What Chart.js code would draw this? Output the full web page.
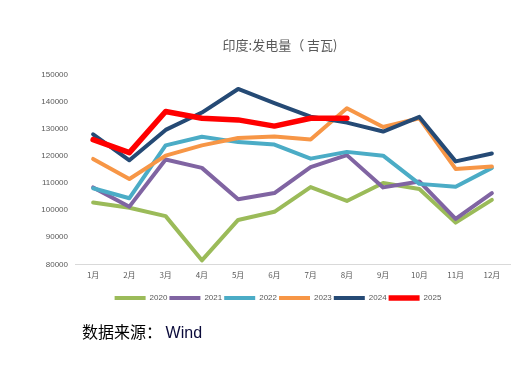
<!DOCTYPE html>
<html><head><meta charset="utf-8">
<script src="https://cdn.jsdelivr.net/npm/chart.js@4/dist/chart.umd.min.js"></script>
<style>
html,body{margin:0;padding:0;background:#fff;}
#wrap{position:relative;width:525px;height:371px;}
#src{position:absolute;left:82px;top:321px;font-family:"Noto Sans CJK SC","DejaVu Sans",sans-serif;font-size:16px;color:#000;line-height:20px;}
#src span{color:#0a0a3a;font-family:"Liberation Sans",Arial,sans-serif;}
</style></head>
<body><div id="wrap"><canvas id="c" width="525" height="371"></canvas><div id="src">数据来源：&nbsp;<span>Wind</span></div></div>
<script>
const months = ["1月","2月","3月","4月","5月","6月","7月","8月","9月","10月","11月","12月"];
const yearLabels = ["2020","2021","2022","2023","2024","2025"];
const y2020 = [102800,100900,97800,81500,96400,99400,108500,103400,110000,107800,95400,103800];
const y2021 = [108400,101300,118700,115600,104000,106300,115900,120300,108400,110600,96800,106300];
const y2022 = [108100,104400,123900,127100,125100,124200,119000,121500,120100,109700,108600,115600];
const y2023 = [118900,111500,120100,123900,126600,127200,126100,137600,130700,133900,115200,116100];
const y2024 = [128000,118400,129600,136000,144700,139500,134500,132300,129000,134400,118000,120900];
const y2025 = [126000,121200,136400,133900,133300,131000,133900,133900];
const yTicks = [80000,90000,100000,110000,120000,130000,140000,150000];

const colors = ["#9BBB59","#8064A2","#4BACC6","#F79646","#254A75","#FF0000"];
const widths = [4,4,4,4,4,5.5];
const series = [y2020,y2021,y2022,y2023,y2024,y2025];

const datasets = series.map((d,i)=>({
  label: yearLabels[i],
  data: d,
  borderColor: colors[i],
  backgroundColor: colors[i],
  borderWidth: widths[i],
  pointRadius: 0,
  pointHoverRadius: 0,
  tension: 0,
  borderCapStyle: 'round',
  borderJoinStyle: 'round',
  order: 5 - i,
  fill: false
}));

const shiftPlugin = {
  id: 'shiftTitleLegend',
  afterLayout(chart){
    const t = chart.titleBlock, l = chart.legend;
    if (t){ t.left += 25; t.right += 25; }
    if (l){ l.left += 23; l.right += 23; l.top += 6; l.bottom += 6; }
  }
};

new Chart(document.getElementById('c'), {
  type: 'line',
  data: { labels: months, datasets },
  plugins: [shiftPlugin],
  options: {
    responsive: false,
    animation: false,
    layout: { padding: { left: 0, right: 15, top: 0, bottom: 65 } },
    plugins: {
      title: {
        display: true,
        text: '印度:发电量（ 吉瓦)',
        color: '#595959',
        font: { size: 13, family: '"Noto Sans CJK SC", sans-serif', weight: 'normal' },
        padding: { top: 37, bottom: 22 }
      },
      legend: {
        position: 'bottom',
        labels: {
          usePointStyle: true,
          pointStyle: 'line',
          pointStyleWidth: 31,
          boxHeight: 8,
          padding: 2,
          color: '#595959',
          font: { size: 8, family: '"Liberation Sans", Arial, sans-serif' },
          sort: (a,b)=>a.datasetIndex-b.datasetIndex
        }
      },
      tooltip: { enabled: false }
    },
    scales: {
      x: {
        offset: true,
        grid: { display: false, drawTicks: false },
        border: { display: true, color: '#D9D9D9', width: 1 },
        ticks: { color: '#595959', font: { size: 8, family: '"Noto Sans CJK SC", sans-serif' }, padding: 6, maxRotation: 0, autoSkip: false }
      },
      y: {
        min: 80000, max: 150000,
        afterBuildTicks: (s)=>{ s.ticks = yTicks.map(v=>({value:v})); },
        afterFit: (s)=>{ s.width = 75; },
        grid: { display: false, drawTicks: false },
        border: { display: false },
        ticks: { color: '#595959', font: { size: 8, family: '"Liberation Sans", Arial, sans-serif' }, padding: 7, callback: (v)=>String(v) }
      }
    }
  }
});
</script>
</body></html>
